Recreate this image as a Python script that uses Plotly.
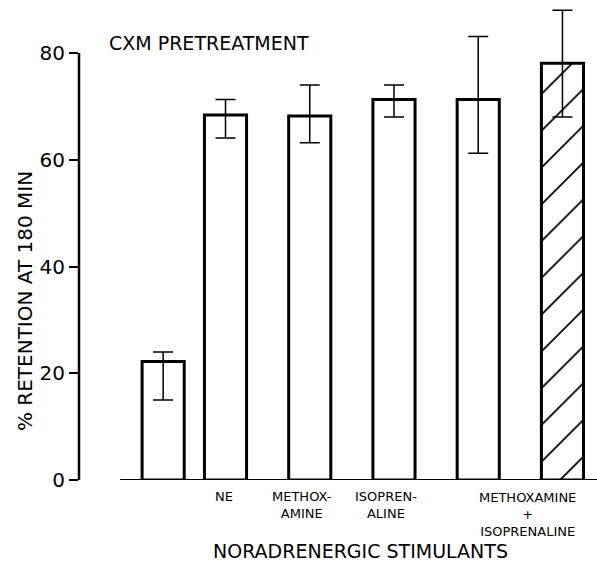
import plotly.graph_objects as go

# ---- data ----
groups = ["CONTROL", "NE", "METHOXAMINE", "ISOPRENALINE", "METHOX+ISO", "METHOX+ISO (hatched)"]
tick_labels = ["", "NE", "METHOX-<br>AMINE", "ISOPREN-<br>ALINE", "", ""]
group_label = "METHOXAMINE<br>+<br>ISOPRENALINE"
retention = [22.2, 68.4, 68.2, 71.3, 71.3, 78.1]
err_plus = [1.8, 2.9, 5.8, 2.7, 11.8, 9.9]
err_minus = [7.2, 4.3, 5.0, 3.3, 10.1, 10.1]
y_ticks = [0, 20, 40, 60, 80]
y_title = "% RETENTION AT 180 MIN"
x_title = "NORADRENERGIC STIMULANTS"
panel_title = "CXM PRETREATMENT"

FONT = "DejaVu Sans"
idx = list(range(len(groups)))

fig = go.Figure()

# control bar (drawn slightly nearer to the others, as in the original)
fig.add_trace(go.Bar(
    x=idx[:1], y=retention[:1], width=0.5, offset=0.01,
    marker=dict(color="white", line=dict(color="black", width=3)),
    error_y=dict(type="data", symmetric=False, array=err_plus[:1], arrayminus=err_minus[:1],
                 color="black", thickness=1.5, width=10),
    showlegend=False, hoverinfo="skip",
))
patterns = ["", "", "", "", "/"]
fig.add_trace(go.Bar(
    x=idx[1:], y=retention[1:], width=0.5,
    marker=dict(color="white", line=dict(color="black", width=3),
                pattern=dict(shape=patterns, fgcolor="black", bgcolor="white", fgopacity=1,
                             size=26, solidity=0.07)),
    error_y=dict(type="data", symmetric=False, array=err_plus[1:], arrayminus=err_minus[1:],
                 color="black", thickness=1.5, width=10),
    showlegend=False, hoverinfo="skip",
))

# category labels
for i, lab in zip(idx, tick_labels):
    if lab:
        fig.add_annotation(x=i, y=0, xref="x", yref="y", text=lab, showarrow=False,
                           yanchor="top", xanchor="center", yshift=-7,
                           xshift=-8 if i > 1 else -2,
                           font=dict(family=FONT, size=13, color="black"))
fig.add_annotation(x=(idx[4] + idx[5]) / 2, y=0, xref="x", yref="y", text=group_label,
                   showarrow=False, yanchor="top", xanchor="center", yshift=-8, xshift=7,
                   font=dict(family=FONT, size=13, color="black"))

# brace under the combined group
fig.add_shape(type="path", xref="x", yref="y",
              path="M 3.71,0 Q 3.73,-1.0 3.85,-1.0 L 4.4,-1.0 Q 4.47,-1.0 4.5,-1.5 Q 4.53,-1.0 4.6,-1.0 "
                   "L 5.15,-1.0 Q 5.27,-1.0 5.29,0",
              line=dict(color="black", width=1.2))

# baseline (x axis) starting away from the y axis
fig.add_shape(type="line", xref="x", yref="y", x0=-0.25, x1=5.42, y0=0, y1=0,
              line=dict(color="black", width=2))
# y axis line from 0 to 80
fig.add_shape(type="line", xref="paper", yref="y", x0=0, x1=0, y0=0, y1=y_ticks[-1],
              line=dict(color="black", width=2.5))

fig.add_annotation(x=0.054, y=0.92, xref="paper", yref="paper", text=panel_title, showarrow=False,
                   xanchor="left", yanchor="middle", font=dict(family=FONT, size=19, color="black"))
fig.add_annotation(x=-0.104, y=0.377, xref="paper", yref="paper", text=y_title, showarrow=False,
                   textangle=-90, xanchor="center", yanchor="middle",
                   font=dict(family=FONT, size=20, color="black"))
fig.add_annotation(x=0.5425, y=-0.149, xref="paper", yref="paper", text=x_title, showarrow=False,
                   xanchor="center", yanchor="middle", font=dict(family=FONT, size=19, color="black"))

fig.update_layout(
    width=597, height=563,
    margin=dict(l=79, r=0, t=5, b=83),
    paper_bgcolor="white", plot_bgcolor="white",
    bargap=0.5,
    xaxis=dict(range=[-0.739, 5.41], showticklabels=False, showgrid=False, zeroline=False,
               showline=False, ticks=""),
    yaxis=dict(range=[0, 89], tickvals=y_ticks, ticks="outside", ticklen=9, tickwidth=2,
               tickcolor="black", showgrid=False, zeroline=False, showline=False,
               tickfont=dict(family=FONT, size=20, color="black")),
)

fig.write_html("out.html")
